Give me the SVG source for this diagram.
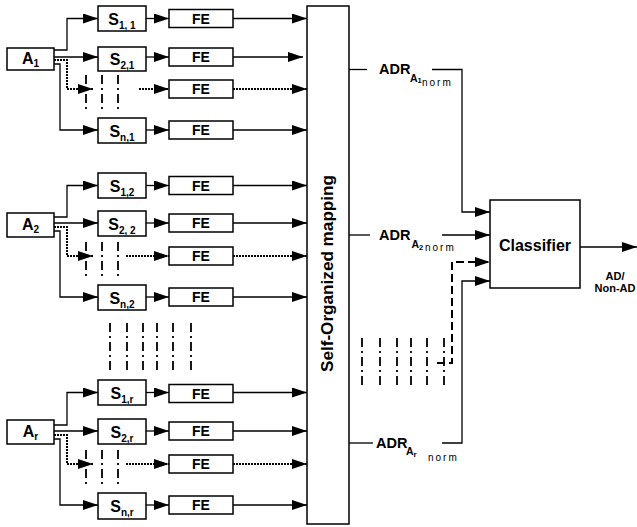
<svg xmlns="http://www.w3.org/2000/svg" width="637" height="527" viewBox="0 0 637 527">
<style>
.box{fill:#fff;stroke:#000;stroke-width:1.5}
.lbl{font-family:"Liberation Sans",Arial,sans-serif;font-weight:bold;fill:#000}
.ln{fill:none;stroke:#000;stroke-width:1.3}
.dot{fill:none;stroke:#000;stroke-width:2;stroke-dasharray:2,1}
.dd{fill:none;stroke:#000;stroke-width:1.8;stroke-dasharray:9,4,2,4}
.dash{fill:none;stroke:#000;stroke-width:2;stroke-dasharray:8,4}
.norm{font-family:"Liberation Sans",Arial,sans-serif;font-weight:normal;font-size:10px;letter-spacing:2px;fill:#000}
</style>
<defs>
<marker id="arr" markerUnits="userSpaceOnUse" markerWidth="15" markerHeight="10" viewBox="0 0 15 10" refX="15" refY="5" orient="auto">
<path d="M0,0 L15,5 L0,10 z" fill="#000"/>
</marker>
</defs>
<rect width="637" height="527" fill="#fff"/>

<g id="connectors">
<g id="conn-block1">
<path class="ln" d="M54,50 H67 V18.5 H98" marker-end="url(#arr)"/>
<path class="ln" d="M54,57 H98" marker-end="url(#arr)"/>
<path class="dot" d="M54,60 H67 V89 H93" marker-end="url(#arr)"/>
<path class="ln" d="M54,64 H60 V130 H98" marker-end="url(#arr)"/>
<path class="ln" d="M146,18.5 H169" marker-end="url(#arr)"/>
<path class="ln" d="M146,57 H169" marker-end="url(#arr)"/>
<path class="dot" d="M139,89 H169" marker-end="url(#arr)"/>
<path class="ln" d="M146,130 H169" marker-end="url(#arr)"/>
<path class="ln" d="M233,18.5 H307" marker-end="url(#arr)"/>
<path class="ln" d="M233,57 H303" marker-end="url(#arr)"/>
<path class="dot" d="M233,89 H307" marker-end="url(#arr)"/>
<path class="ln" d="M233,130 H307" marker-end="url(#arr)"/>
<path class="dd" d="M86,75 V112 M102,75 V112 M118,75 V112"/>
</g>
<g id="conn-block2" transform="translate(0,167)">
<path class="ln" d="M54,50 H67 V18.5 H98" marker-end="url(#arr)"/>
<path class="ln" d="M54,56 H98" marker-end="url(#arr)"/>
<path class="dot" d="M54,60 H67 V89 H93" marker-end="url(#arr)"/>
<path class="ln" d="M54,64 H60 V130 H98" marker-end="url(#arr)"/>
<path class="ln" d="M146,18.5 H169" marker-end="url(#arr)"/>
<path class="ln" d="M146,56 H169" marker-end="url(#arr)"/>
<path class="dot" d="M126,89 H169" marker-end="url(#arr)"/>
<path class="ln" d="M146,130 H169" marker-end="url(#arr)"/>
<path class="ln" d="M233,18.5 H307" marker-end="url(#arr)"/>
<path class="ln" d="M233,56 H307" marker-end="url(#arr)"/>
<path class="dot" d="M233,89 H307" marker-end="url(#arr)"/>
<path class="ln" d="M233,130 H307" marker-end="url(#arr)"/>
<path class="dd" d="M86,75 V112 M102,75 V112 M118,75 V112"/>
</g>
<g id="conn-block3" transform="translate(0,375)">
<path class="ln" d="M54,50 H67 V17.5 H98" marker-end="url(#arr)"/>
<path class="ln" d="M54,56 H98" marker-end="url(#arr)"/>
<path class="dot" d="M54,60 H67 V89 H93" marker-end="url(#arr)"/>
<path class="ln" d="M54,64 H60 V130 H98" marker-end="url(#arr)"/>
<path class="ln" d="M146,17.5 H169" marker-end="url(#arr)"/>
<path class="ln" d="M146,56 H169" marker-end="url(#arr)"/>
<path class="dot" d="M126,89 H169" marker-end="url(#arr)"/>
<path class="ln" d="M146,130 H169" marker-end="url(#arr)"/>
<path class="ln" d="M233,17.5 H307" marker-end="url(#arr)"/>
<path class="ln" d="M233,56 H307" marker-end="url(#arr)"/>
<path class="dot" d="M233,89 H307" marker-end="url(#arr)"/>
<path class="ln" d="M233,130 H307" marker-end="url(#arr)"/>
<path class="dd" d="M86,75 V112 M102,75 V112 M118,75 V112"/>
</g>
<path class="dd" d="M110,323 V372 M127,323 V372 M143,323 V372 M157,323 V372 M173,323 V372 M191,323 V372"/>
<path class="ln" d="M349,69.5 H367"/>
<path class="ln" d="M432,69.5 H462 V212 H490" marker-end="url(#arr)"/>
<path class="ln" d="M349,235 H370"/>
<path class="ln" d="M442,235 H490" marker-end="url(#arr)"/>
<path class="ln" d="M349,443 H373"/>
<path class="ln" d="M442,443 H462 V281 H490" marker-end="url(#arr)"/>
<path class="dash" d="M437,363 H452 V262 H490" marker-end="url(#arr)"/>
<path class="dd" d="M362,338 V387 M380,338 V387 M397,338 V387 M411,338 V387 M427,338 V387 M444,338 V387"/>
<path class="ln" d="M580,247 H637" marker-end="url(#arr)"/>
</g>

<g id="block1">
<g id="A1"><rect class="box" x="7" y="48" width="47" height="22"/><text class="lbl" x="30.5" y="64" font-size="16" text-anchor="middle">A<tspan font-size="10" dy="3">1</tspan></text></g>
<g id="S11"><rect class="box" x="98" y="6" width="48" height="25"/><text class="lbl" x="122" y="25" font-size="16" text-anchor="middle">S<tspan font-size="10" dy="4">1, 1</tspan></text></g>
<g id="S21"><rect class="box" x="98" y="47" width="48" height="24"/><text class="lbl" x="122" y="65" font-size="16" text-anchor="middle">S<tspan font-size="10" dy="4">2,1</tspan></text></g>
<g id="Sn1"><rect class="box" x="98" y="118" width="48" height="25"/><text class="lbl" x="122" y="137" font-size="16" text-anchor="middle">S<tspan font-size="10" dy="4">n,1</tspan></text></g>
<g id="FE11"><rect class="box" x="169" y="9.5" width="64" height="18"/><text class="lbl" x="201" y="23.5" font-size="14" text-anchor="middle">FE</text></g>
<g id="FE21"><rect class="box" x="169" y="48" width="64" height="18"/><text class="lbl" x="201" y="62" font-size="14" text-anchor="middle">FE</text></g>
<g id="FE31"><rect class="box" x="169" y="80" width="64" height="18"/><text class="lbl" x="201" y="94" font-size="14" text-anchor="middle">FE</text></g>
<g id="FE41"><rect class="box" x="169" y="121" width="64" height="18"/><text class="lbl" x="201" y="135" font-size="14" text-anchor="middle">FE</text></g>
</g>

<g id="block2" transform="translate(0,167)">
<g id="A2"><rect class="box" x="7" y="46" width="47" height="24"/><text class="lbl" x="30.5" y="63" font-size="16" text-anchor="middle">A<tspan font-size="10" dy="3">2</tspan></text></g>
<g id="S12"><rect class="box" x="98" y="6" width="48" height="25"/><text class="lbl" x="122" y="25" font-size="16" text-anchor="middle">S<tspan font-size="10" dy="4">1,2</tspan></text></g>
<g id="S22"><rect class="box" x="98" y="44" width="48" height="25"/><text class="lbl" x="122" y="63" font-size="16" text-anchor="middle">S<tspan font-size="10" dy="4">2, 2</tspan></text></g>
<g id="Sn2"><rect class="box" x="98" y="118" width="48" height="25"/><text class="lbl" x="122" y="137" font-size="16" text-anchor="middle">S<tspan font-size="10" dy="4">n,2</tspan></text></g>
<g id="FE12"><rect class="box" x="169" y="9.5" width="64" height="18"/><text class="lbl" x="201" y="23.5" font-size="14" text-anchor="middle">FE</text></g>
<g id="FE22"><rect class="box" x="169" y="47" width="64" height="18"/><text class="lbl" x="201" y="61" font-size="14" text-anchor="middle">FE</text></g>
<g id="FE32"><rect class="box" x="169" y="80" width="64" height="18"/><text class="lbl" x="201" y="94" font-size="14" text-anchor="middle">FE</text></g>
<g id="FE42"><rect class="box" x="169" y="121" width="64" height="18"/><text class="lbl" x="201" y="135" font-size="14" text-anchor="middle">FE</text></g>
</g>

<g id="block3" transform="translate(0,375)">
<g id="Ar"><rect class="box" x="7" y="45" width="47" height="24"/><text class="lbl" x="30.5" y="62" font-size="16" text-anchor="middle">A<tspan font-size="10" dy="3">r</tspan></text></g>
<g id="S1r"><rect class="box" x="98" y="5" width="48" height="25"/><text class="lbl" x="122" y="24" font-size="16" text-anchor="middle">S<tspan font-size="10" dy="4">1,r</tspan></text></g>
<g id="S2r"><rect class="box" x="98" y="44" width="48" height="25"/><text class="lbl" x="122" y="63" font-size="16" text-anchor="middle">S<tspan font-size="10" dy="4">2,r</tspan></text></g>
<g id="Snr"><rect class="box" x="98" y="118" width="48" height="26"/><text class="lbl" x="122" y="137" font-size="16" text-anchor="middle">S<tspan font-size="10" dy="4">n,r</tspan></text></g>
<g id="FE1r"><rect class="box" x="169" y="9.5" width="64" height="18"/><text class="lbl" x="201" y="23.5" font-size="14" text-anchor="middle">FE</text></g>
<g id="FE2r"><rect class="box" x="169" y="47" width="64" height="18"/><text class="lbl" x="201" y="61" font-size="14" text-anchor="middle">FE</text></g>
<g id="FE3r"><rect class="box" x="169" y="80" width="64" height="18"/><text class="lbl" x="201" y="94" font-size="14" text-anchor="middle">FE</text></g>
<g id="FE4r"><rect class="box" x="169" y="121" width="64" height="18"/><text class="lbl" x="201" y="135" font-size="14" text-anchor="middle">FE</text></g>
</g>

<g id="SOM"><rect class="box" x="307" y="6" width="42" height="518"/><text class="lbl" font-size="17" text-anchor="middle" textLength="197" lengthAdjust="spacingAndGlyphs" transform="translate(333,273.5) rotate(-90)">Self-Organized mapping</text></g>

<g id="ADR1"><text class="lbl" x="379" y="73.5" font-size="14.5">ADR</text><text class="lbl" x="410" y="82" font-size="10.5">A</text><text class="lbl" x="417.5" y="83" font-size="7.5">1</text><text class="norm" x="422" y="85.5">norm</text></g>
<g id="ADR2"><text class="lbl" x="379" y="239.5" font-size="14.5">ADR</text><text class="lbl" x="411.5" y="248" font-size="10.5">A</text><text class="lbl" x="419" y="249.5" font-size="7.5">2</text><text class="norm" x="425" y="250.5">norm</text></g>
<g id="ADRr"><text class="lbl" x="376" y="448" font-size="14.5">ADR</text><text class="lbl" x="406" y="455" font-size="10.5">A</text><text class="lbl" x="413.5" y="456.5" font-size="8">r</text><text class="norm" x="428" y="461">norm</text></g>

<g id="Classifier"><rect class="box" x="490" y="200" width="90" height="88"/><text class="lbl" x="535" y="251" font-size="16" text-anchor="middle">Classifier</text></g>

<g id="output"><text class="lbl" x="615" y="280" font-size="11" text-anchor="middle">AD/</text><text class="lbl" x="615" y="292" font-size="11" text-anchor="middle">Non-AD</text></g>
</svg>
